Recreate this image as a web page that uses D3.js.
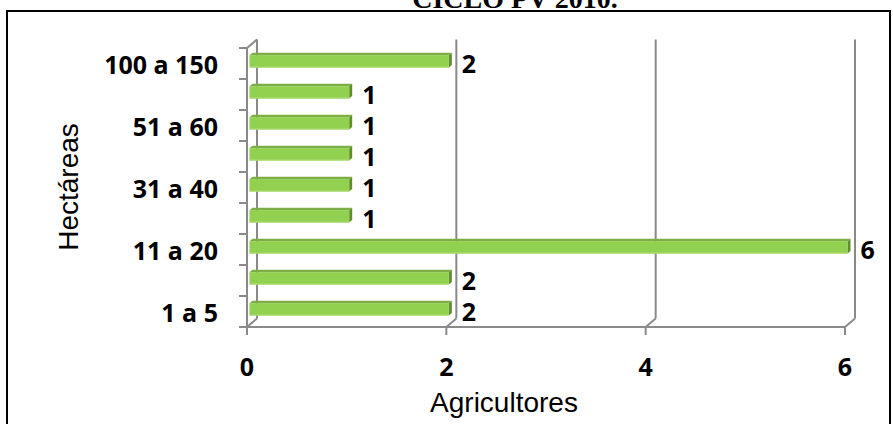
<!DOCTYPE html>
<html>
<head>
<meta charset="utf-8">
<script src="https://cdn.jsdelivr.net/npm/d3@7"></script>
<style>
  html, body { margin: 0; padding: 0; background: #ffffff; }
  svg { display: block; }
</style>
</head>
<body>
<div id="chart"></div>
<script>
// Hectare ranges (bottom to top) and number of farmers in each
const categories = ["1 a 5", "6 a 10", "11 a 20", "21 a 30", "31 a 40", "41 a 50", "51 a 60", "61 a 99", "100 a 150"];
const farmers = [2, 2, 6, 1, 1, 1, 1, 1, 2];
const xTickValues = [0, 2, 4, 6];
// Only every other category name fits on the axis
const shownCategories = ["1 a 5", "11 a 20", "31 a 40", "51 a 60", "100 a 150"];

const W = 893, H = 424;
const svg = d3.select("#chart").append("svg").attr("width", W).attr("height", H);

// Title (sits partly above the visible area)
svg.append("text")
  .attr("x", 515).attr("y", 8)
  .attr("text-anchor", "middle")
  .attr("font-family", "'Liberation Serif', 'Times New Roman', serif")
  .attr("font-weight", "bold").attr("font-size", 28)
  .text("CICLO PV 2010.");

// Chart frame
svg.append("rect")
  .attr("x", 7).attr("y", 11).attr("width", 883).attr("height", 430)
  .attr("fill", "none").attr("stroke", "#000").attr("stroke-width", 2);

// Front plane scales
const x = d3.scaleLinear().domain([0, 6]).range([247, 845]);
const y = d3.scaleBand().domain(categories).range([327, 48]).paddingInner(0.6).paddingOuter(0.3);
const yTop = 48, yFloor = 327;
// Depth vector of the 3D box
const DX = 10, DY = -8.5;
const f1 = 0.25, f2 = 0.55;

const gridColor = "#8a8a8a";
const grid = svg.append("g").attr("stroke", gridColor).attr("stroke-width", 2).attr("fill", "none");

// Back wall gridlines and floor connectors
xTickValues.forEach(v => {
  const xf = x(v);
  grid.append("line").attr("x1", xf + DX).attr("x2", xf + DX)
    .attr("y1", yTop + DY).attr("y2", yFloor + DY);
  grid.append("line").attr("x1", xf).attr("y1", yFloor)
    .attr("x2", xf + DX).attr("y2", yFloor + DY);
});
// Side wall: front axis, top connector
grid.append("line").attr("x1", x(0)).attr("x2", x(0)).attr("y1", yTop).attr("y2", yFloor);
grid.append("line").attr("x1", x(0)).attr("y1", yTop).attr("x2", x(0) + DX).attr("y2", yTop + DY);
// Floor front edge
grid.append("line").attr("x1", x(0)).attr("x2", x(6)).attr("y1", yFloor).attr("y2", yFloor);

// Category ticks on the front axis
const step = y.step();
d3.range(categories.length + 1).forEach(i => {
  const yy = yFloor - i * step;
  grid.append("line").attr("x1", x(0) - 8).attr("x2", x(0)).attr("y1", yy).attr("y2", yy);
});
// Value ticks below the floor
xTickValues.forEach(v => {
  grid.append("line").attr("x1", x(v)).attr("x2", x(v)).attr("y1", yFloor).attr("y2", yFloor + 8);
});

// Bars drawn as boxes: top face, end face, front face
const bars = svg.append("g");
categories.forEach((c, i) => {
  const v = farmers[i];
  const t = y(c), b = y(c) + y.bandwidth();
  const x0 = x(0), x1 = x(v);
  const p = (xx, yy, f) => [xx + f * DX, yy + f * DY];
  // top face
  bars.append("polygon")
    .attr("points", [p(x0, t, f1), p(x1, t, f1), p(x1, t, f2), p(x0, t, f2)].map(d => d.join(",")).join(" "))
    .attr("fill", "#7dae45");
  // end face
  bars.append("polygon")
    .attr("points", [p(x1, t, f1), p(x1, t, f2), p(x1, b, f2), p(x1, b, f1)].map(d => d.join(",")).join(" "))
    .attr("fill", "#5f8f2c");
  // front face
  const [fx, fy] = p(x0, t, f1);
  bars.append("rect")
    .attr("x", fx).attr("y", fy)
    .attr("width", x1 - x0).attr("height", b - t)
    .attr("fill", "#92d050");
  bars.append("line")
    .attr("x1", fx).attr("x2", fx + x1 - x0)
    .attr("y1", fy + (b - t) - 0.5).attr("y2", fy + (b - t) - 0.5)
    .attr("stroke", "#b4e07f").attr("stroke-width", 1);
});

const boldFont = "'Open Sans', sans-serif";
const boldSize = 25;

// Value labels
categories.forEach((c, i) => {
  const v = farmers[i];
  svg.append("text")
    .attr("x", x(v) + f1 * DX + 13)
    .attr("y", y(c) + y.bandwidth() / 2 + 9)
    .attr("font-family", boldFont).attr("font-weight", "bold").attr("font-size", boldSize)
    .attr("fill", "#000")
    .text(v);
});

// Category labels
categories.forEach(c => {
  if (!shownCategories.includes(c)) return;
  svg.append("text")
    .attr("x", 218)
    .attr("y", y(c) + y.bandwidth() / 2 + 10.5)
    .attr("text-anchor", "end")
    .attr("font-family", boldFont).attr("font-weight", "bold").attr("font-size", boldSize)
    .text(c);
});

// Value axis labels
xTickValues.forEach(v => {
  svg.append("text")
    .attr("x", x(v)).attr("y", 376)
    .attr("text-anchor", "middle")
    .attr("font-family", boldFont).attr("font-weight", "bold").attr("font-size", boldSize)
    .text(v);
});

// Axis titles
svg.append("text")
  .attr("x", 504).attr("y", 412)
  .attr("text-anchor", "middle")
  .attr("font-family", "'Liberation Sans', Arial, sans-serif").attr("font-size", 28)
  .text("Agricultores");
svg.append("text")
  .attr("transform", "translate(78,187) rotate(-90)")
  .attr("text-anchor", "middle")
  .attr("font-family", "'Liberation Sans', Arial, sans-serif").attr("font-size", 28)
  .text("Hectáreas");
</script>
</body>
</html>
